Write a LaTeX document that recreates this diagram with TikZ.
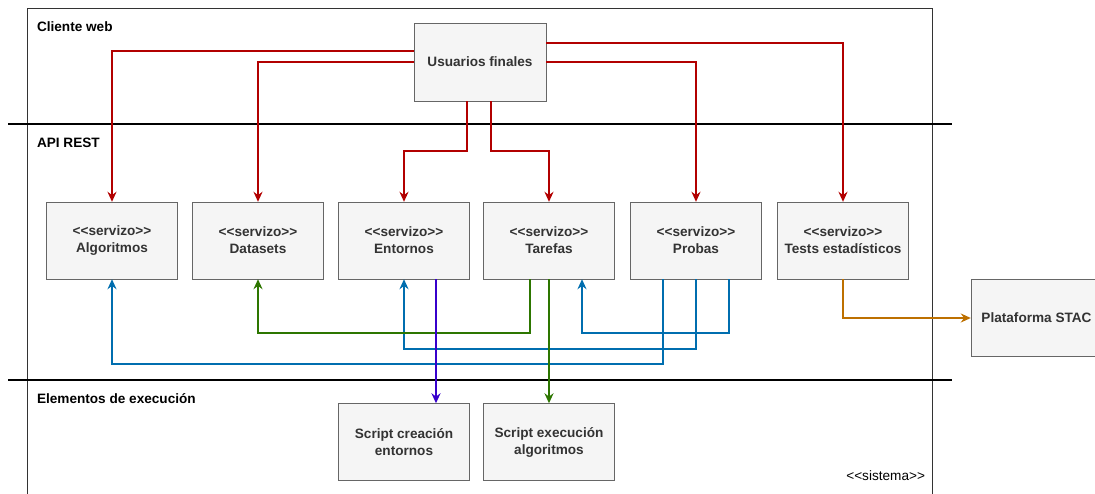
\documentclass[tikz,border=0pt]{standalone}
\usepackage{fontspec}
\setmainfont{Liberation Sans}
\usetikzlibrary{arrows.meta, positioning, calc}
\definecolor{boxfill}{HTML}{F5F5F5}
\definecolor{boxline}{HTML}{666666}
\definecolor{boxtext}{HTML}{333333}
\definecolor{webred}{HTML}{B20000}
\definecolor{apiblue}{HTML}{006EAF}
\definecolor{apigreen}{HTML}{2D7600}
\definecolor{scrpurple}{HTML}{3700CC}
\definecolor{stacorange}{HTML}{BD7000}

\begin{document}
\begin{tikzpicture}[
        x=1pt, y=-1pt,
        comp/.style={draw=boxline, fill=boxfill, text=boxtext, minimum width=131pt, minimum height=77pt, align=center, font=\fontsize{13.6}{17}\selectfont\bfseries},
        layer/.style={anchor=west, font=\fontsize{13.6}{16}\selectfont\bfseries},
        arrow/.style={-{Stealth[length=10pt,width=9pt]}, line width=2pt},
        sep/.style={line width=2pt, black}
    ]
        \clip (0,0) rectangle (1095,494);

        % System frame
        \draw[line width=0.8pt, black!80] (27,8) rectangle (932,520);
        \node[anchor=east, font=\fontsize{13.6}{16}\selectfont] (sis) at (928.5,476) {<{}<sistema>{}>};

        % Layers
        \draw[sep] (8,124) -- (952,124);
        \draw[sep] (8,380) -- (952,380);
        \node[layer] (l1) at (33.5,27) {Cliente web};
        \node[layer] (l2) at (33.5,143) {API REST};
        \node[layer] (l3) at (33.5,399) {Elementos de execución};

        % Web client
        \node[comp, minimum width=132pt, minimum height=78pt] (usu) at (480,62) {Usuarios finales};

        % Services
        \node[comp] (alg) at (112,240.5) {<{}<servizo>{}>\\Algoritmos};
        \node[comp] (dat) at (258,240.5) {<{}<servizo>{}>\\Datasets};
        \node[comp] (ent) at (404,240.5) {<{}<servizo>{}>\\Entornos};
        \node[comp] (tar) at (549,240.5) {<{}<servizo>{}>\\Tarefas};
        \node[comp] (pro) at (696,240.5) {<{}<servizo>{}>\\Probas};
        \node[comp] (tes) at (843,240.5) {<{}<servizo>{}>\\Tests estadísticos};

        % External platform
        \node[comp] (stac) at (1036.5,318) {Plataforma STAC};

        % Execution elements
        \node[comp] (scr) at (404,442) {Script creación\\entornos};
        \node[comp] (sce) at (549,442) {Script execución\\algoritmos};

        % Client to services
        \draw[arrow, webred] ([yshift=11pt]usu.west) -| (alg.north);
        \draw[arrow, webred] (usu.west) -| (dat.north);
        \draw[arrow, webred] ([xshift=-13pt]usu.south) -- ++(0,50) -| (ent.north);
        \draw[arrow, webred] ([xshift=11pt]usu.south) -- ++(0,50) -| (tar.north);
        \draw[arrow, webred] (usu.east) -| (pro.north);
        \draw[arrow, webred] ([yshift=19pt]usu.east) -| (tes.north);

        % Between services
        \draw[arrow, apiblue] ([xshift=-33pt]pro.south) -- ++(0,85) -| (alg.south);
        \draw[arrow, apiblue] (pro.south) -- ++(0,70) -| (ent.south);
        \draw[arrow, apiblue] ([xshift=33pt]pro.south) -- ++(0,54) -| ([xshift=33pt]tar.south);
        \draw[arrow, apigreen] ([xshift=-19pt]tar.south) -- ++(0,54) -| (dat.south);

        % Scripts and STAC
        \draw[arrow, scrpurple] ([xshift=32pt]ent.south) -- ([xshift=32pt]scr.north);
        \draw[arrow, apigreen] (tar.south) -- (sce.north);
        \draw[arrow, stacorange] (tes.south) |- (stac.west);
    \end{tikzpicture}
\end{document}
